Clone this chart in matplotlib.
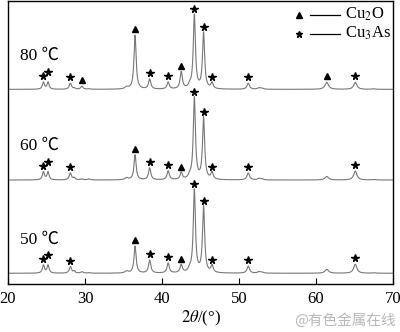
import matplotlib
matplotlib.use("Agg")
import matplotlib.pyplot as plt
import numpy as np

plt.rcParams['font.family'] = ['Liberation Serif', 'Noto Sans CJK SC', 'DejaVu Sans']
plt.rcParams['mathtext.fontset'] = 'stix'

# peak positions (2theta, deg) and widths shared by all three patterns
peak_pos = [24.6, 25.2, 28.1, 28.6, 29.6, 30.5, 35.4, 36.5, 38.4, 40.8, 42.5,
            43.6, 44.2, 45.4, 46.5, 51.2, 52.6, 53.0, 61.4, 65.1, 67.5]
peak_fwhm = [0.32, 0.32, 0.35, 0.3, 0.35, 0.4, 0.5, 0.33, 0.35, 0.35, 0.35,
             0.4, 0.33, 0.33, 0.35, 0.4, 0.4, 0.4, 0.55, 0.5, 0.5]

# peak intensities for each leaching temperature
h80 = [7, 7, 6, 1, 3, 0.5, 2, 54, 10, 7, 17, 3, 74, 56, 6, 6, 1.5, 1, 7, 7, 0.5]
h60 = [8, 8, 7, 2, 1, 1, 2, 25, 12, 9, 7, 3, 82, 62, 7, 7, 1.5, 1, 3.5, 9, 0.5]
h50 = [8, 8, 6.5, 2, 1.5, 0.5, 2, 27, 13, 10, 8, 3, 83, 66, 7, 7, 1.5, 1, 4, 9, 0.5]

temps = ["80 ℃", "60 ℃", "50 ℃"]
offsets = [194.7, 104, 10.7]
heights = [h80, h60, h50]

# phase markers: (peak position, phase)
marks80 = [(24.6, 's'), (25.2, 's'), (28.1, 's'), (29.6, 't'), (36.5, 't'), (38.4, 's'),
           (40.8, 's'), (42.5, 't'), (44.2, 's'), (45.4, 's'), (46.5, 's'), (51.2, 's'),
           (61.4, 't'), (65.1, 's')]
marks60 = [(24.6, 's'), (25.2, 's'), (28.1, 's'), (36.5, 't'), (38.4, 's'), (40.8, 's'),
           (42.5, 't'), (44.2, 's'), (45.4, 's'), (46.5, 's'), (51.2, 's'), (65.1, 's')]
marks50 = marks60
marks = [marks80, marks60, marks50]

x = np.linspace(20, 70, 3000)


def pattern(hs):
    y = np.zeros_like(x)
    for p, h, w in zip(peak_pos, hs, peak_fwhm):
        g = (w / 2) ** 2
        y += h * g / ((x - p) ** 2 + g)
    return y


fig = plt.figure(figsize=(4.0, 3.32), dpi=100)
ax = fig.add_axes([0.02, 0.1446, 0.9625, 0.852])

for lab, off, hs, mk in zip(temps, offsets, heights, marks):
    ax.plot(x, pattern(hs) + off, color='#777777', lw=0.8)
    ax.text(21.6, off + 34, lab, fontsize=12.5, va='center')
    for p, kind in mk:
        i = peak_pos.index(p)
        dy = 10.5 if p == 25.2 else 6
        ym = off + hs[i] + dy
        if kind == 's':
            ax.plot(p, ym, marker='*', color='black', ms=5.5, mec='black')
        else:
            ax.plot(p, ym, marker='^', color='black', ms=5)

# legend drawn by hand: marker, short rule, phase name
for yy, mkr, ms, name in [(0.952, '^', 4.5, 'Cu$_2$O'), (0.885, '*', 5, 'Cu$_3$As')]:
    ax.plot([0.756], [yy], marker=mkr, color='black', ms=ms, transform=ax.transAxes, clip_on=False)
    ax.plot([0.785, 0.862], [yy, yy], color='black', lw=0.9, transform=ax.transAxes)
    ax.text(0.875, yy, name, fontsize=12, va='center', transform=ax.transAxes)

ax.set_xlim(20, 70)
ax.set_ylim(0, 283)
ax.set_xticks([20, 30, 40, 50, 60, 70])
ax.set_yticks([])
ax.tick_params(axis='x', direction='in', length=4, labelsize=12, pad=5)
for s in ax.spines.values():
    s.set_linewidth(1.0)
ax.set_xlabel(r"$\mathit{2\theta}$/(°)", fontsize=12, labelpad=1)

fig.text(0.99, 0.012, "@有色金属在线", fontsize=10.5, color='#b8b8b8', ha='right', va='bottom',
         family=['Noto Sans CJK SC'])

fig.savefig("out.png", dpi=100)
